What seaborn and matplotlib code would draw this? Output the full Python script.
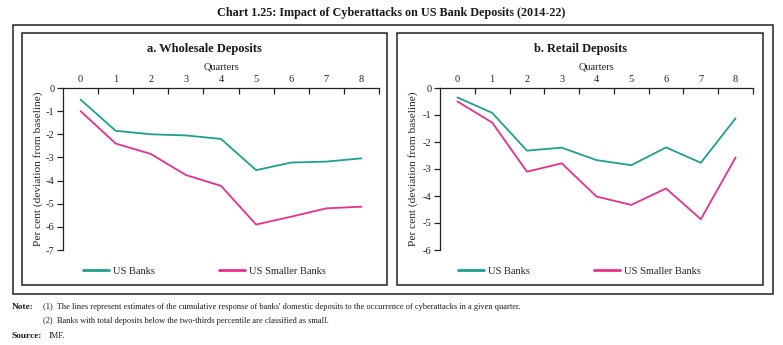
import matplotlib
matplotlib.use("Agg")
import matplotlib.pyplot as plt
from matplotlib.patches import Rectangle
from matplotlib.ticker import FixedLocator
import seaborn as sns
import pandas as pd
import numpy as np

sns.set_theme(style="white")
plt.rcParams['font.family'] = ['Liberation Serif', 'DejaVu Serif']

quarters = [0, 1, 2, 3, 4, 5, 6, 7, 8]
wholesale_us_banks = [-0.5, -1.85, -2.0, -2.05, -2.2, -3.55, -3.22, -3.18, -3.04]
wholesale_us_smaller = [-1.0, -2.4, -2.85, -3.76, -4.23, -5.9, -5.56, -5.2, -5.13]
retail_us_banks = [-0.35, -0.92, -2.32, -2.21, -2.67, -2.86, -2.2, -2.77, -1.12]
retail_us_smaller = [-0.5, -1.28, -3.1, -2.79, -4.02, -4.33, -3.72, -4.86, -2.57]
series_names = ["US Banks", "US Smaller Banks"]
panel_titles = ["a. Wholesale Deposits", "b. Retail Deposits"]
y_ticks_a = [0, -1, -2, -3, -4, -5, -6, -7]
y_ticks_b = [0, -1, -2, -3, -4, -5, -6]

colors = {"US Banks": "#1fa08c", "US Smaller Banks": "#e8318b"}

def make_df(a, b):
    return pd.DataFrame({
        "quarter": quarters * 2,
        "value": list(a) + list(b),
        "series": [series_names[0]] * len(quarters) + [series_names[1]] * len(quarters),
    })

df_a = make_df(wholesale_us_banks, wholesale_us_smaller)
df_b = make_df(retail_us_banks, retail_us_smaller)

W, H = 783, 345
fig = plt.figure(figsize=(W / 100, H / 100), dpi=100)
fig.patch.set_facecolor("white")

def fx(px):
    return px / W

def fy(py):
    return 1 - py / H

# frames
fig.add_artist(Rectangle((fx(13), fy(294)), fx(773) - fx(13), fy(25) - fy(294),
                         transform=fig.transFigure, fill=False, lw=1.1, ec="#222222"))
fig.add_artist(Rectangle((fx(22), fy(285)), fx(387) - fx(22), fy(33) - fy(285),
                         transform=fig.transFigure, fill=False, lw=1.1, ec="#222222"))
fig.add_artist(Rectangle((fx(397), fy(285)), fx(763) - fx(397), fy(33) - fy(285),
                         transform=fig.transFigure, fill=False, lw=1.1, ec="#222222"))

fig.text(0.5, fy(13), "Chart 1.25: Impact of Cyberattacks on US Bank Deposits (2014-22)",
         ha="center", va="center", fontsize=8.7, fontweight="bold", color="#1a1a1a")

panels = [
    (df_a, 63, 379, (-7, 0), y_ticks_a, panel_titles[0], 204.5, 37, (83, 271)),
    (df_b, 440, 753, (-6, 0), y_ticks_b, panel_titles[1], 581, 412, (458, 271)),
]

for df, x0, x1, ylim, yt, title, tx, ylab_x, leg in panels:
    ax = fig.add_axes([fx(x0), fy(250), fx(x1) - fx(x0), fy(88) - fy(250)])
    ax.set_facecolor("white")
    sns.lineplot(data=df, x="quarter", y="value", hue="series", palette=colors,
                 ax=ax, linewidth=1.3, legend=True)
    ax.set_xlim(-0.5, 8.5)
    ax.set_ylim(*ylim)
    for s in ["right", "bottom"]:
        ax.spines[s].set_visible(False)
    for s in ["top", "left"]:
        ax.spines[s].set_visible(True)
        ax.spines[s].set_color("#222222")
        ax.spines[s].set_linewidth(0.9)
    ax.xaxis.tick_top()
    ax.xaxis.set_label_position("top")
    ax.set_xticks(quarters)
    ax.set_xticklabels([str(q) for q in quarters])
    ax.xaxis.set_minor_locator(FixedLocator([q + 0.5 for q in quarters]))
    ax.tick_params(axis="x", which="major", length=0, pad=3, labelsize=7.5, colors="#222222")
    ax.tick_params(axis="x", which="minor", top=True, direction="in", length=4, width=0.9, color="#222222")
    ax.set_yticks(yt)
    ax.set_yticklabels([str(v) for v in yt])
    ax.tick_params(axis="y", which="major", left=True, direction="out", length=4, width=0.9,
                   pad=2, labelsize=7.5, colors="#222222")
    ax.set_xlabel("Quarters", fontsize=7.5, labelpad=4, color="#222222")
    ax.set_ylabel("Per cent (deviation from baseline)", fontsize=8.2, color="#222222")
    ax.yaxis.set_label_coords((ylab_x + 6 - x0) / (x1 - x0), 0.5)
    ax.grid(False)
    handles, labels = ax.get_legend_handles_labels()
    ax.legend(handles, labels, loc="center left",
              bbox_to_anchor=(fx(leg[0]), fy(leg[1])), bbox_transform=fig.transFigure,
              ncol=2, frameon=False, fontsize=7.5, handlelength=2.5, handletextpad=0.4,
              columnspacing=6.1, borderpad=0, borderaxespad=0)
    for line in ax.get_legend().get_lines():
        line.set_linewidth(2.0)
    fig.text(fx(tx), fy(49), title, ha="center", va="center", fontsize=9,
             fontweight="bold", color="#1a1a1a")

fs_note = 6.05
fig.text(fx(12), fy(307), "Note:", ha="left", va="center", fontsize=fs_note + 0.6, fontweight="bold", color="#1a1a1a")
fig.text(fx(43), fy(307),
         "(1)  The lines represent estimates of the cumulative response of banks' domestic deposits to the occurrence of cyberattacks in a given quarter.",
         ha="left", va="center", fontsize=fs_note, color="#1a1a1a")
fig.text(fx(43), fy(321),
         "(2)  Banks with total deposits below the two-thirds percentile are classified as small.",
         ha="left", va="center", fontsize=fs_note, color="#1a1a1a")
fig.text(fx(12), fy(336), "Source:", ha="left", va="center", fontsize=fs_note + 0.6, fontweight="bold", color="#1a1a1a")
fig.text(fx(49), fy(336), "IMF.", ha="left", va="center", fontsize=fs_note, color="#1a1a1a")

fig.savefig("out.png", dpi=100, facecolor="white")
